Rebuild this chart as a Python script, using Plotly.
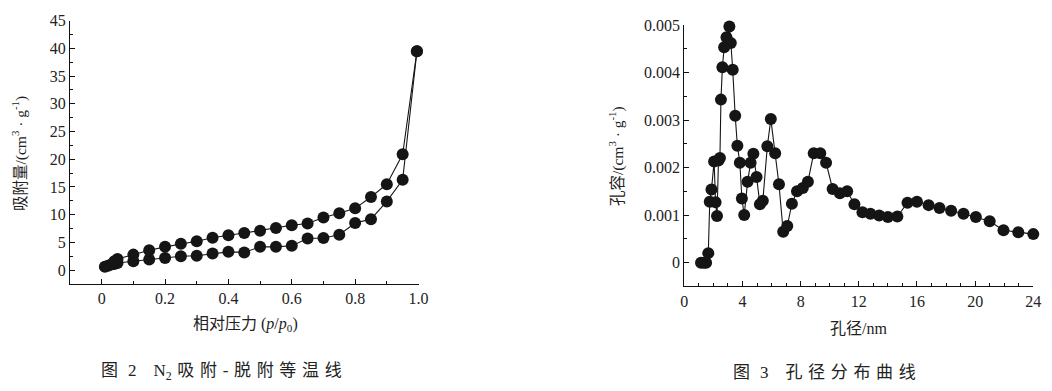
import plotly.graph_objects as go

# ---- Fig. 2: N2 adsorption-desorption isotherm ----
ads_p = [0.01, 0.02, 0.03, 0.04, 0.05, 0.10, 0.15, 0.20, 0.25, 0.30, 0.35, 0.40,
         0.45, 0.50, 0.55, 0.60, 0.65, 0.70, 0.75, 0.80, 0.85, 0.90, 0.95, 0.995]
ads_v = [0.6, 0.8, 1.0, 1.1, 1.3, 1.6, 1.9, 2.2, 2.5, 2.6, 3.0, 3.3,
         3.2, 4.2, 4.2, 4.4, 5.7, 5.8, 6.4, 8.5, 9.2, 12.4, 16.3, 39.5]
des_p = [0.995, 0.95, 0.90, 0.85, 0.80, 0.75, 0.70, 0.65, 0.60, 0.55, 0.50,
         0.45, 0.40, 0.35, 0.30, 0.25, 0.20, 0.15, 0.10, 0.05, 0.04]
des_v = [39.5, 20.9, 15.5, 13.2, 11.15, 10.25, 9.5, 8.4, 8.1, 7.6, 7.1,
         6.7, 6.3, 5.85, 5.2, 4.75, 4.2, 3.6, 2.8, 2.0, 1.6]

# ---- Fig. 3: pore size distribution ----
pore_d = [1.15, 1.35, 1.5, 1.65, 1.75, 1.87, 2.05, 2.15, 2.25, 2.35, 2.45, 2.52,
          2.62, 2.74, 2.9, 3.1, 3.2, 3.33, 3.5, 3.65, 3.82, 3.96, 4.12, 4.35,
          4.56, 4.75, 4.97, 5.2, 5.4, 5.71, 5.95, 6.25, 6.51, 6.8, 7.08, 7.4,
          7.75, 8.15, 8.5, 8.9, 9.35, 9.75, 10.2, 10.7, 11.2, 11.7, 12.25, 12.8,
          13.4, 14.0, 14.65, 15.35, 16.0, 16.8, 17.55, 18.35, 19.2, 20.05, 21.0,
          21.95, 22.97, 24.0]
pore_v = [0.0, 0.0, 0.0, 0.0002, 0.00128, 0.00154, 0.00213, 0.00127, 0.00098,
          0.00215, 0.0022, 0.00343, 0.00411, 0.00453, 0.00474, 0.00497, 0.00462,
          0.00406, 0.00309, 0.00246, 0.0021, 0.00135, 0.001, 0.0017, 0.0021,
          0.00229, 0.0018, 0.00123, 0.0013, 0.00245, 0.00302, 0.0023, 0.00165,
          0.00065, 0.00077, 0.00124, 0.0015, 0.00157, 0.0017, 0.0023, 0.0023,
          0.0021, 0.00155, 0.00146, 0.0015, 0.00123, 0.00106, 0.00103, 0.00099,
          0.00096, 0.00097, 0.00126, 0.00128, 0.00121, 0.00115, 0.00109, 0.00103,
          0.00096, 0.00087, 0.00068, 0.00064, 0.0006, 0.00052]

left_xticks = [0, 0.2, 0.4, 0.6, 0.8, 1.0]
left_xtext = ["0", "0.2", "0.4", "0.6", "0.8", "1.0"]
left_yticks = [0, 5, 10, 15, 20, 25, 30, 35, 40, 45]
right_xticks = [0, 4, 8, 12, 16, 20, 24]
right_yticks = [0, 0.001, 0.002, 0.003, 0.004, 0.005]
right_ytext = ["0", "0.001", "0.002", "0.003", "0.004", "0.005"]

SERIF = "Liberation Serif, Noto Sans CJK SC, serif"
TXT = "#222222"
MK = "#151515"

fig = go.Figure()

marker = dict(size=12, color=MK, symbol="circle", line=dict(width=0))
lineA = dict(color=MK, width=1.1)

fig.add_trace(go.Scatter(x=ads_p, y=ads_v, mode="lines+markers", marker=marker,
                         line=lineA, xaxis="x", yaxis="y", cliponaxis=False,
                         showlegend=False))
fig.add_trace(go.Scatter(x=des_p, y=des_v, mode="lines+markers", marker=marker,
                         line=lineA, xaxis="x", yaxis="y", cliponaxis=False,
                         showlegend=False))
fig.add_trace(go.Scatter(x=pore_d, y=pore_v, mode="lines+markers", marker=marker,
                         line=lineA, xaxis="x2", yaxis="y2", cliponaxis=False,
                         showlegend=False))

W, H = 1052, 391

def px(x):
    return x / W

def py(y):
    return 1 - y / H

axis_common = dict(showline=True, linecolor="#111111", linewidth=1.2,
                   ticks="inside", ticklen=5, tickwidth=1.1, tickcolor="#111111",
                   showgrid=False, zeroline=False, mirror=False, automargin=False,
                   tickfont=dict(family=SERIF, size=16, color=TXT))

fig.update_layout(
    width=W, height=H,
    margin=dict(l=0, r=0, t=0, b=0, pad=0),
    paper_bgcolor="white", plot_bgcolor="white",
    xaxis=dict(domain=[px(70), px(418.5)], range=[-0.1, 1.0],
               tickvals=left_xticks, ticktext=left_xtext, anchor="y",
               minor=dict(dtick=0.1, tick0=0, ticklen=3, ticks="inside",
                          tickcolor="#111111", tickwidth=1),
               **axis_common),
    yaxis=dict(domain=[py(284), py(20.7)], range=[-2.5, 45],
               tickvals=left_yticks, anchor="x",
               minor=dict(dtick=2.5, tick0=0, ticklen=3, ticks="inside",
                          tickcolor="#111111", tickwidth=1),
               **axis_common),
    xaxis2=dict(domain=[px(684.3), px(1033.3)], range=[0, 24],
                tickvals=right_xticks, anchor="y2",
                minor=dict(dtick=1, tick0=0, ticklen=3, ticks="inside",
                           tickcolor="#111111", tickwidth=1),
                **axis_common),
    yaxis2=dict(domain=[py(286.4), py(25)], range=[-0.0005, 0.005],
                tickvals=right_yticks, ticktext=right_ytext, anchor="x2",
                minor=dict(dtick=0.0005, tick0=0, ticklen=3, ticks="inside",
                           tickcolor="#111111", tickwidth=1),
                **axis_common),
)

def ann(text, x, y, size=15, angle=0):
    fig.add_annotation(text=text, x=px(x), y=py(y), xref="paper", yref="paper",
                       showarrow=False, textangle=angle, xanchor="center",
                       yanchor="middle",
                       font=dict(family=SERIF, size=size, color=TXT))

sp = "\u2004"
cap2 = "图 " + sp + "2" + "\u3000" + "N<sub>2</sub>" + sp + sp.join("吸附-脱附等温线")
cap3 = "图 " + sp + "3" + "\u3000" + sp.join("孔径分布曲线")

ann("吸附量/(cm<sup>3</sup> · g<sup>-1</sup>)", 19, 154, size=15.5, angle=-90)
ann("相对压力 (<i>p</i>/<i>p</i><sub>0</sub>)", 245, 324, size=16)
ann("孔容/(cm<sup>3</sup> · g<sup>-1</sup>)", 616, 156, size=15.5, angle=-90)
ann("孔径/nm", 858, 328, size=16)
ann(cap2, 221, 372, size=17)
ann(cap3, 824, 372, size=17)

fig.write_html("out.html")
